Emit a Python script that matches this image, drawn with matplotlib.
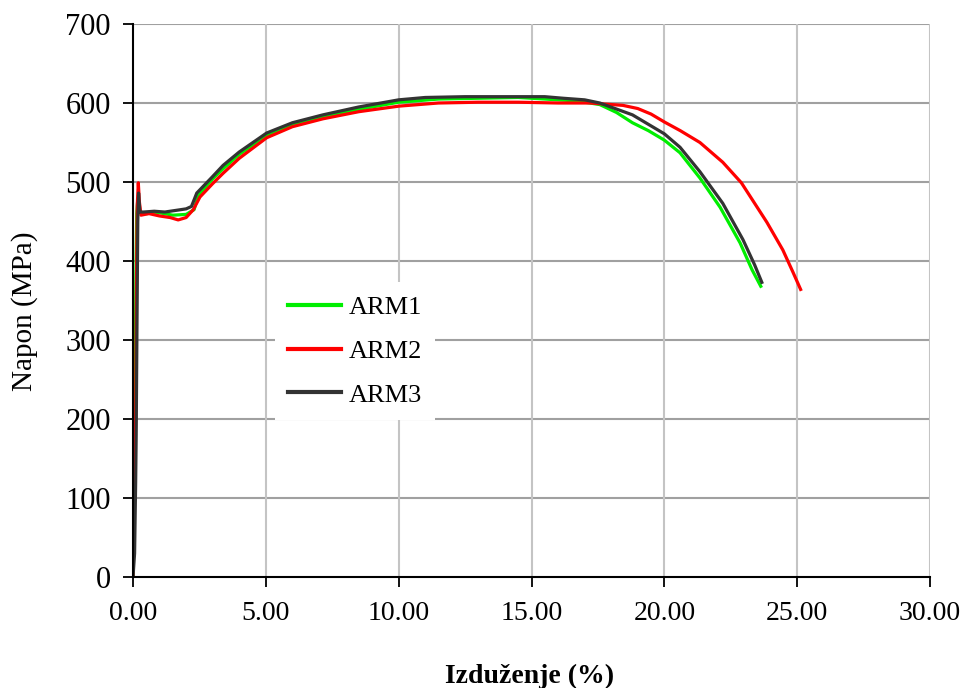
import matplotlib
matplotlib.use("Agg")
import matplotlib.pyplot as plt

# ARM1 (zelena)
arm1_x = [0, 0.04, 0.08, 0.11, 0.14, 0.18, 0.25, 0.5, 1.0, 1.5, 2.0, 2.3, 2.45,
          3.0, 3.4, 4.0, 5.0, 6.0, 7.15, 8.5, 10.0, 11.5, 13.0, 14.5, 15.5, 16.5,
          17.0, 17.57, 18.2, 18.8, 19.4, 20.0, 20.59, 21.34, 22.1, 22.85, 23.3, 23.63]
arm1_y = [0, 90, 240, 385, 460, 478, 462, 460, 461, 458, 459, 465, 483,
          504, 517, 535, 558, 572, 583, 592, 601, 605, 606, 607, 605, 603,
          601, 598, 588, 575, 565, 553, 537, 505, 468, 423, 389, 368]

# ARM2 (crvena)
arm2_x = [0, 0.03, 0.07, 0.1, 0.13, 0.16, 0.2, 0.24, 0.3, 0.6, 1.0, 1.4, 1.7,
          2.0, 2.27, 2.52, 3.0, 3.39, 4.0, 5.03, 6.0, 7.15, 8.5, 10.0, 11.5,
          13.0, 14.5, 16.0, 17.2, 18.44, 19.0, 19.5, 20.0, 20.6, 21.34, 22.2,
          22.9, 23.86, 24.46, 24.84, 25.13]
arm2_y = [0, 80, 150, 200, 370, 470, 499, 475, 458, 460, 457, 455, 452,
          455, 465, 481, 498, 511, 530, 556, 570, 580, 589, 596, 600,
          601, 601, 600, 600, 597, 593, 586, 576, 565, 550, 525,
          499, 449, 414, 386, 364]

# ARM3 (tamno siva)
arm3_x = [0, 0.06, 0.1, 0.12, 0.15, 0.18, 0.21, 0.26, 0.4, 0.8, 1.2, 1.6, 2.0,
          2.2, 2.4, 3.0, 3.39, 4.0, 5.03, 6.0, 7.15, 8.5, 10.0, 11.0, 12.5,
          14.0, 15.5, 16.2, 17.0, 17.57, 18.8, 20.0, 20.59, 21.34, 22.2, 22.96,
          23.4, 23.67]
arm3_y = [0, 30, 120, 180, 320, 450, 486, 462, 462, 463, 462, 464, 466,
          469, 486, 507, 521, 538, 562, 575, 585, 595, 604, 607, 608,
          608, 608, 606, 604, 600, 585, 561, 544, 513, 473, 427,
          395, 373]

x_ticks = [0, 5, 10, 15, 20, 25, 30]
y_ticks = [0, 100, 200, 300, 400, 500, 600, 700]

plt.rcParams['font.family'] = ['Liberation Serif', 'DejaVu Serif']

fig = plt.figure(figsize=(9.65, 6.88), dpi=100)
ax = fig.add_axes([133 / 965, 1 - 577 / 688, 797 / 965, 553 / 688])

ax.plot(arm1_x, arm1_y, color='#00ee00', lw=2.3, label='ARM1', zorder=3)
ax.plot(arm2_x, arm2_y, color='#ff0000', lw=2.3, label='ARM2', zorder=4)
ax.plot(arm3_x, arm3_y, color='#333333', lw=2.3, label='ARM3', zorder=5)

ax.set_xlim(0, 30)
ax.set_ylim(0, 700)
ax.set_xticks(x_ticks)
ax.set_yticks(y_ticks)
ax.set_xticklabels([f'{v:.2f}' for v in x_ticks])

# mreza
for v in y_ticks[1:]:
    ax.axhline(v, color='#a0a0a0', lw=1.5, zorder=1)
for v in x_ticks[1:]:
    ax.axvline(v, color='#c4c4c4', lw=1.5, zorder=1)

for s in ['top', 'right']:
    ax.spines[s].set_visible(False)
for s in ['left', 'bottom']:
    ax.spines[s].set_linewidth(1.5)
    ax.spines[s].set_zorder(6)

ax.tick_params(axis='both', direction='out', length=7, width=1.3)
ax.tick_params(axis='y', pad=9, labelsize=22)
ax.tick_params(axis='x', pad=10, labelsize=20)

ax.set_ylabel('Napon (MPa)', fontsize=21)
ax.set_xlabel('Izduženje (%)', fontsize=20, fontweight='bold')
ax.yaxis.set_label_coords(-0.119, 0.48)
ax.xaxis.set_label_coords(0.498, -0.157)

leg = ax.legend(loc='center left', bbox_to_anchor=(275 / 965, 1 - 351 / 688),
                bbox_transform=fig.transFigure, borderaxespad=0,
                fontsize=19, handlelength=2.0, handletextpad=0.3,
                labelspacing=0.77, borderpad=0.5, fancybox=False,
                frameon=True, framealpha=1, facecolor='white', edgecolor='none')
leg.set_zorder(7)
for line in leg.get_lines():
    line.set_linewidth(3)

fig.savefig('out.png', dpi=100)
